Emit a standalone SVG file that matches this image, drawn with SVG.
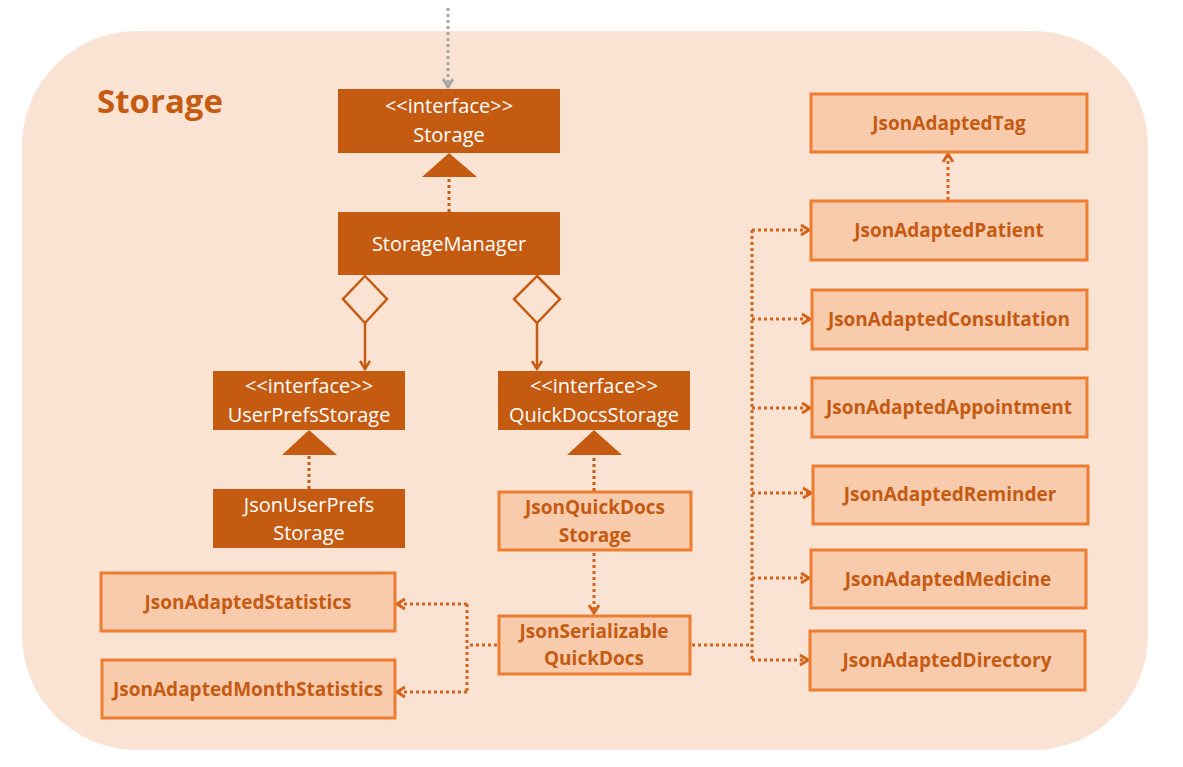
<svg xmlns="http://www.w3.org/2000/svg" width="1183" height="767" viewBox="0 0 1183 767">
<defs>
<style>
.dark{fill:#c55a11;}
.light{fill:#f8cbad;stroke:#ed7d31;stroke-width:3;}
.wt{font-family:"Open Sans","Noto Sans",sans-serif;font-size:20px;fill:#ffffff;text-anchor:middle;}
.bt{font-family:"Open Sans","Noto Sans",sans-serif;font-size:19px;font-weight:bold;fill:#c55a11;text-anchor:middle;}
.dot{fill:none;stroke:#c55a11;stroke-width:3;stroke-dasharray:3 3;}
.dot2{fill:none;stroke:#d4641a;stroke-width:3;stroke-dasharray:3 3;}
.solid{fill:none;stroke:#c55a11;stroke-width:2.5;}
</style>
<marker id="chev" markerWidth="14" markerHeight="14" refX="10" refY="6" orient="auto" markerUnits="userSpaceOnUse">
<path d="M2,1 L10,6 L2,11" fill="none" stroke="#d4641a" stroke-width="3"/>
</marker>
<marker id="chevD" markerWidth="14" markerHeight="14" refX="10" refY="6" orient="auto" markerUnits="userSpaceOnUse">
<path d="M2,1 L10,6 L2,11" fill="none" stroke="#c55a11" stroke-width="2.5"/>
</marker>
<marker id="chevG" markerWidth="14" markerHeight="14" refX="10" refY="6" orient="auto" markerUnits="userSpaceOnUse">
<path d="M2,1 L10,6 L2,11" fill="none" stroke="#a6a6a6" stroke-width="3"/>
</marker>
</defs>

<rect id="storage-package" x="22" y="31" width="1126" height="719" rx="115" ry="115" fill="#fbe3d4"/>
<text x="97" y="113" font-family="Open Sans, Noto Sans, sans-serif" font-size="33" font-weight="bold" fill="#c55a11">Storage</text>

<g id="connectors">
<path d="M448,8 V87" fill="none" stroke="#a6a6a6" stroke-width="3" stroke-dasharray="3 3" marker-end="url(#chevG)"/>
<path class="dot" d="M449,212 V177"/>
<polygon points="449,153 477,177 422,177" fill="#c55a11"/>
<path class="dot" d="M309,489 V455"/>
<polygon points="309,430 337,455 282,455" fill="#c55a11"/>
<path class="dot" d="M594,491 V455"/>
<polygon points="594,430 622,455 567,455" fill="#c55a11"/>
<polygon points="365,276 387,299 365,323 343,299" fill="none" stroke="#c55a11" stroke-width="2.5"/>
<path class="solid" d="M365,323 V369" marker-end="url(#chevD)"/>
<polygon points="537,276 560,299 537,323 514,299" fill="none" stroke="#c55a11" stroke-width="2.5"/>
<path class="solid" d="M537,323 V369" marker-end="url(#chevD)"/>
<path class="dot2" d="M594,553 V613" marker-end="url(#chev)"/>
<path class="dot2" d="M948,200 V154" marker-end="url(#chev)"/>
<path class="dot2" d="M497,645 H467"/>
<path class="dot2" d="M467,604 V692"/>
<path class="dot2" d="M467,604 H397" marker-end="url(#chev)"/>
<path class="dot2" d="M467,692 H397" marker-end="url(#chev)"/>
<path class="dot2" d="M692,645 H752"/>
<path class="dot2" d="M752,230 V660"/>
<path class="dot2" d="M752,230 H809" marker-end="url(#chev)"/>
<path class="dot2" d="M752,319 H810" marker-end="url(#chev)"/>
<path class="dot2" d="M752,408 H810" marker-end="url(#chev)"/>
<path class="dot2" d="M752,493 H811" marker-end="url(#chev)"/>
<path class="dot2" d="M752,578 H809" marker-end="url(#chev)"/>
<path class="dot2" d="M752,660 H808" marker-end="url(#chev)"/>
</g>

<g id="node-storage">
<rect class="dark" x="338" y="89" width="222" height="64"/>
<text class="wt" x="449" y="113">&lt;&lt;interface&gt;&gt;</text>
<text class="wt" x="449" y="142">Storage</text>
</g>
<g id="node-storagemanager">
<rect class="dark" x="338" y="212" width="222" height="63"/>
<text class="wt" x="449" y="251">StorageManager</text>
</g>
<g id="node-userprefsstorage">
<rect class="dark" x="213" y="371" width="192" height="59"/>
<text class="wt" x="309" y="393">&lt;&lt;interface&gt;&gt;</text>
<text class="wt" x="309" y="422">UserPrefsStorage</text>
</g>
<g id="node-quickdocsstorage">
<rect class="dark" x="498" y="371" width="192" height="59"/>
<text class="wt" x="594" y="393">&lt;&lt;interface&gt;&gt;</text>
<text class="wt" x="594" y="422">QuickDocsStorage</text>
</g>
<g id="node-jsonuserprefsstorage">
<rect class="dark" x="213" y="489" width="192" height="59"/>
<text class="wt" x="309" y="512">JsonUserPrefs</text>
<text class="wt" x="309" y="540">Storage</text>
</g>
<g id="node-jsonquickdocsstorage">
<rect class="light" x="499" y="492" width="192" height="58"/>
<text class="bt" x="595" y="514">JsonQuickDocs</text>
<text class="bt" x="595" y="542">Storage</text>
</g>
<g id="node-jsonserializablequickdocs">
<rect class="light" x="499" y="616" width="191" height="58"/>
<text class="bt" x="594" y="638">JsonSerializable</text>
<text class="bt" x="594" y="665">QuickDocs</text>
</g>
<g id="node-jsonadaptedstatistics">
<rect class="light" x="101" y="573" width="294" height="58"/>
<text class="bt" x="248" y="609">JsonAdaptedStatistics</text>
</g>
<g id="node-jsonadaptedmonthstatistics">
<rect class="light" x="102" y="660" width="293" height="58"/>
<text class="bt" x="248" y="696">JsonAdaptedMonthStatistics</text>
</g>
<g id="node-jsonadaptedtag">
<rect class="light" x="811" y="94" width="276" height="58"/>
<text class="bt" x="949" y="130">JsonAdaptedTag</text>
</g>
<g id="node-jsonadaptedpatient">
<rect class="light" x="811" y="201" width="276" height="59"/>
<text class="bt" x="949" y="237">JsonAdaptedPatient</text>
</g>
<g id="node-jsonadaptedconsultation">
<rect class="light" x="812" y="290" width="275" height="59"/>
<text class="bt" x="949" y="326">JsonAdaptedConsultation</text>
</g>
<g id="node-jsonadaptedappointment">
<rect class="light" x="812" y="378" width="275" height="59"/>
<text class="bt" x="949" y="414">JsonAdaptedAppointment</text>
</g>
<g id="node-jsonadaptedreminder">
<rect class="light" x="813" y="466" width="275" height="58"/>
<text class="bt" x="950" y="501">JsonAdaptedReminder</text>
</g>
<g id="node-jsonadaptedmedicine">
<rect class="light" x="811" y="550" width="275" height="58"/>
<text class="bt" x="948" y="586">JsonAdaptedMedicine</text>
</g>
<g id="node-jsonadapteddirectory">
<rect class="light" x="810" y="631" width="275" height="59"/>
<text class="bt" x="947" y="667">JsonAdaptedDirectory</text>
</g>
</svg>
